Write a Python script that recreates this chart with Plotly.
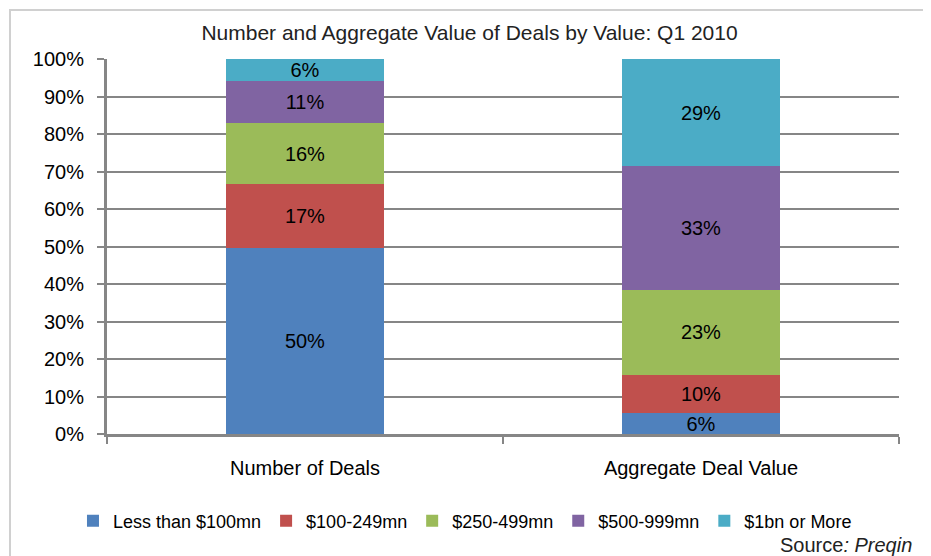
import plotly.graph_objects as go

categories = ["Number of Deals", "Aggregate Deal Value"]
series_names = ["Less than $100mn", "$100-249mn", "$250-499mn", "$500-999mn", "$1bn or More"]
series_colors = ["#4F81BD", "#C0504D", "#9BBB59", "#8064A2", "#4BACC6"]
less_100 = [49.6, 5.6]
v100_249 = [17.1, 10.1]
v250_499 = [16.2, 22.8]
v500_999 = [11.3, 32.9]
v1bn_plus = [5.8, 28.6]
series_values = [less_100, v100_249, v250_499, v500_999, v1bn_plus]
y_ticks = list(range(0, 101, 10))

FONT = "Liberation Sans, Arial, sans-serif"
FS = 20
# page has an 8px body margin; figure is sized to fill the rest
W, H = 923, 548
fig = go.Figure()
for name, color, vals in zip(series_names, series_colors, series_values):
    fig.add_trace(go.Bar(
        x=categories, y=vals, name=name,
        marker=dict(color=color, line=dict(width=0)),
        text=[f"{round(v)}%" for v in vals],
        textposition="inside", insidetextanchor="middle",
        constraintext="none",
        textfont=dict(family=FONT, size=FS, color="#000000"),
        hoverinfo="skip",
    ))

fig.update_layout(
    barmode="stack",
    bargap=0.6,
    width=W, height=H,
    margin=dict(l=99, r=32, t=51, b=122, autoexpand=False),
    paper_bgcolor="white", plot_bgcolor="white",
    font=dict(family=FONT, size=FS, color="#000000"),
    title=dict(text="Number and Aggregate Value of Deals by Value: Q1 2010",
               x=0.5, xanchor="center", xref="container", y=1 - 25 / H, yanchor="middle",
               font=dict(family=FONT, size=FS + 1, color="#222222")),
    showlegend=True,
    legend=dict(orientation="h", x=0.452, xanchor="center", y=-0.232, yanchor="middle",
                font=dict(family=FONT, size=18, color="#000000"),
                traceorder="normal", itemwidth=30, bgcolor="rgba(0,0,0,0)"),
    uniformtext=dict(mode="show", minsize=FS),
)
fig.update_xaxes(
    type="category", showgrid=False, showline=True, linecolor="#868686", linewidth=3,
    ticks="outside", tickson="boundaries", ticklen=7, tickwidth=2, tickcolor="#868686",
    tickfont=dict(family=FONT, size=FS, color="#000000"), ticklabelstandoff=14,
)
fig.update_yaxes(
    range=[0, 100], tickvals=y_ticks, ticktext=[f"{t}%" for t in y_ticks],
    showgrid=True, gridcolor="#868686", gridwidth=2,
    showline=True, linecolor="#868686", linewidth=3,
    ticks="outside", ticklen=7, tickwidth=2, tickcolor="#868686",
    tickfont=dict(family=FONT, size=FS, color="#000000"), zeroline=False,
    ticklabelstandoff=9,
)
# chart border
fig.add_shape(type="rect", xref="paper", yref="paper",
              x0=(10 - 107) / 792, x1=(924 - 107) / 792,
              y0=(434 - 570) / 375, y1=(434 - 10) / 375,
              line=dict(color="#D0D0D0", width=2), fillcolor="rgba(0,0,0,0)", layer="below")
fig.add_annotation(text="Source<i>: Preqin</i>", xref="paper", yref="paper",
                   x=(914 - 107) / 792, xanchor="right", y=(434 - 545) / 375, yanchor="middle",
                   showarrow=False, font=dict(family=FONT, size=FS, color="#222222"))

fig.write_html("out.html")
